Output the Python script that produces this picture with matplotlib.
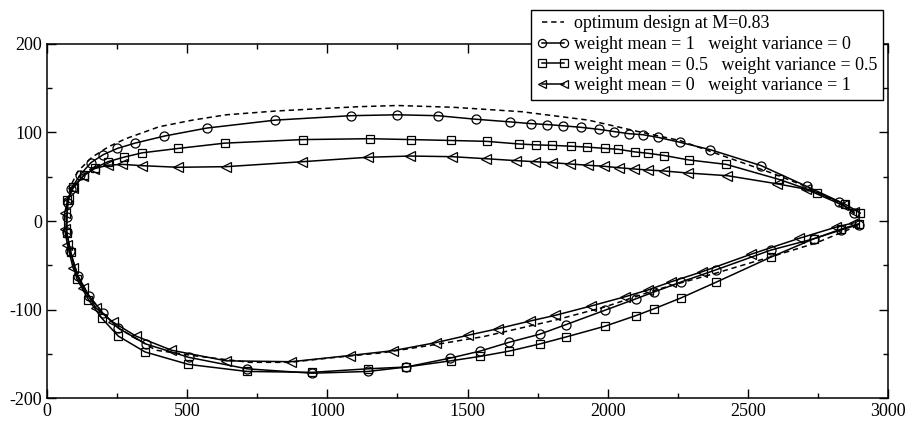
import matplotlib
matplotlib.use("Agg")
import matplotlib.pyplot as plt
from matplotlib.ticker import MultipleLocator

plt.rcParams['font.family'] = ['Liberation Serif', 'DejaVu Serif']
plt.rcParams['axes.unicode_minus'] = False

# optimum design (dashed), upper surface from leading edge to trailing edge
opt_up_x = [68, 72, 85, 110, 160, 220, 281, 400, 519, 639, 818, 996, 1115, 1250, 1449,
            1693, 1931, 2110, 2257, 2408, 2587, 2707, 2880]
opt_up_y = [0, 20, 40, 56, 72, 84, 93, 106.5, 114, 120, 124.3, 127.3, 129.2, 130.5, 128.5,
            123.5, 114, 101, 91, 74, 54, 39, 11]
opt_lo_x = [68, 70, 82, 110, 150, 200, 260, 389, 543, 722, 865, 1020, 1199, 1378, 1556,
            1813, 1991, 2170, 2385, 2587, 2742, 2895]
opt_lo_y = [0, -15, -35, -62, -85, -104, -122, -146, -153, -159.7, -159.7, -154.4, -148.8,
            -140, -130.7, -112, -97, -78, -59, -40, -25, -5]

# weight mean = 1, variance = 0 (circles)
c_up_x = [70, 75, 85, 118, 157, 201, 251, 314, 419, 570, 815, 1084, 1249, 1394, 1529, 1652,
          1728, 1784, 1841, 1906, 1970, 2024, 2077, 2126, 2180, 2257, 2366, 2548, 2711, 2826, 2879]
c_up_y = [4, 20, 36, 52, 66, 75, 82, 88, 96, 105, 114, 119, 120, 119, 115, 112,
          110, 109, 107.6, 105.8, 103.5, 101, 98.6, 97.5, 94.5, 89, 80.6, 62.5, 39, 22, 8.7]
c_lo_x = [70, 83, 110, 151, 199, 254, 353, 505, 713, 945, 1145, 1281, 1437, 1545, 1649, 1757,
          1852, 1989, 2100, 2167, 2261, 2388, 2581, 2736, 2834, 2895]
c_lo_y = [-12, -34, -62, -85, -104, -121, -139, -154, -167, -172, -170, -165, -155, -147, -137, -128,
          -117, -101, -88, -80, -69, -55, -33, -20, -10, -4]

# weight mean = 0.5, variance = 0.5 (squares)
s_up_x = [73, 92, 132, 172, 217, 273, 339, 468, 635, 912, 1151, 1299, 1440, 1568, 1685, 1745,
          1801, 1869, 1928, 1991, 2038, 2099, 2144, 2202, 2289, 2423, 2611, 2748, 2847, 2901]
s_up_y = [24, 38, 52, 60, 67, 72, 77, 82, 88, 92, 93, 92, 91, 90, 87, 86,
          85.5, 84.5, 83.5, 82, 81, 78, 76.5, 74, 69, 64, 47, 32, 19, 9]
s_lo_x = [70, 85, 106, 148, 196, 254, 350, 504, 713, 945, 1145, 1281, 1440, 1545, 1649, 1757,
          1852, 1989, 2100, 2167, 2261, 2388, 2581, 2736, 2834, 2897]
s_lo_y = [-13, -35, -65, -89, -110, -130, -148, -162, -170, -171, -167, -165, -158, -153, -147, -139,
          -131, -119, -107, -99, -87, -69, -41, -20, -9, -3]

# weight mean = 0, variance = 1 (triangles)
t_up_x = [63, 75, 93, 130, 168, 216, 269, 339, 468, 639, 911, 1144, 1294, 1444, 1565, 1673,
          1741, 1801, 1867, 1930, 1988, 2039, 2093, 2144, 2202, 2286, 2427, 2605, 2707, 2838, 2879]
t_up_y = [9, 25, 37, 51, 59, 63, 64, 62.5, 60.7, 61.4, 67, 72, 73.4, 72.7, 70.4, 68.2,
          67, 65.9, 64.4, 63, 61.8, 60.2, 58.8, 57.6, 56.5, 54.2, 51.2, 42, 36, 18, 10]
t_lo_x = [63, 73, 93, 130, 174, 234, 317, 444, 639, 871, 1080, 1235, 1386, 1503, 1610, 1723,
          1813, 1941, 2063, 2143, 2227, 2337, 2510, 2683, 2814, 2879]
t_lo_y = [-9, -27, -53, -76, -98, -114, -130, -146, -158, -159, -152, -146.5, -137.5, -129, -121.6, -113,
          -106.6, -96, -85.5, -78, -68.6, -57.3, -37.7, -19.6, -7, -2]

labels = ['optimum design at M=0.83',
          'weight mean = 1   weight variance = 0',
          'weight mean = 0.5   weight variance = 0.5',
          'weight mean = 0   weight variance = 1']


def contour(ux, uy, lx, ly):
    # trailing edge -> leading edge along upper side, then back along lower side
    return ux[::-1] + lx, uy[::-1] + ly


fig = plt.figure(figsize=(9.1, 4.23), dpi=100)
ax = fig.add_axes([47 / 910, 25 / 423, 841 / 910, 354 / 423])

x, y = contour(opt_up_x, opt_up_y, opt_lo_x, opt_lo_y)
ax.plot(x, y, color='black', lw=1.1, ls=(0, (3.5, 2.5)), label=labels[0])

styles = [('o', 6.5), ('s', 6), ('<', 6.5)]
series = [(c_up_x, c_up_y, c_lo_x, c_lo_y),
          (s_up_x, s_up_y, s_lo_x, s_lo_y),
          (t_up_x, t_up_y, t_lo_x, t_lo_y)]
for (m, ms), (ux, uy, lx, ly), lab in zip(styles, series, labels[1:]):
    x, y = contour(ux, uy, lx, ly)
    ax.plot(x, y, color='black', lw=1.1, marker=m, ms=ms, mfc='none', mec='black',
            mew=0.9, label=lab)

ax.set_xlim(0, 3000)
ax.set_ylim(-200, 200)
ax.xaxis.set_major_locator(MultipleLocator(500))
ax.xaxis.set_minor_locator(MultipleLocator(250))
ax.yaxis.set_major_locator(MultipleLocator(100))
ax.yaxis.set_minor_locator(MultipleLocator(50))
ax.tick_params(which='both', direction='in', top=True, right=True, labelsize=13, width=1)
ax.tick_params(which='major', length=6.5)
ax.tick_params(which='minor', length=3.5)
for s in ax.spines.values():
    s.set_linewidth(1.1)

leg = fig.legend(loc='upper right', bbox_to_anchor=(883 / 910, 1 - 10 / 423),
                 fontsize=13, numpoints=2, markerscale=0.9, handlelength=1.85,
                 handletextpad=0.25, borderpad=0.3, labelspacing=0.2,
                 borderaxespad=0, fancybox=False, framealpha=1)
leg.get_frame().set_edgecolor('black')
leg.get_frame().set_linewidth(1.0)

fig.savefig('out.png', dpi=100)
